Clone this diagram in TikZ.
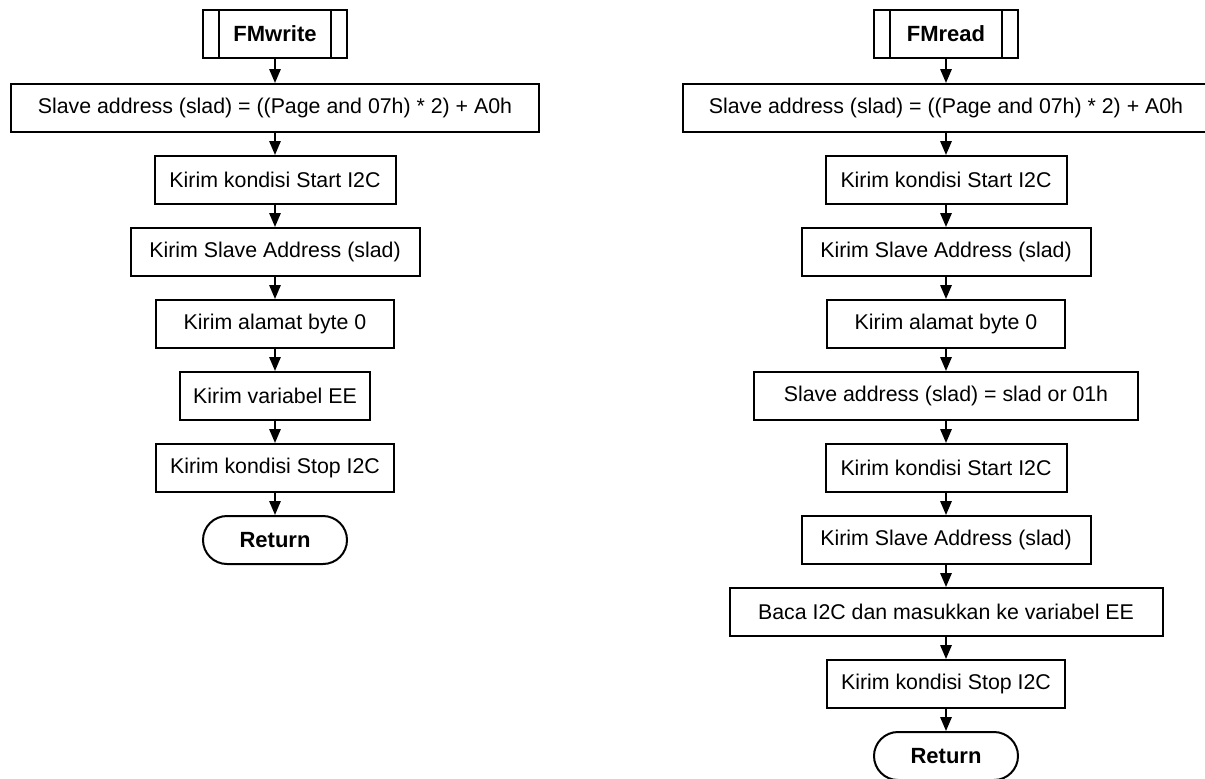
\documentclass[tikz,border=0pt]{standalone}
\usepackage{fontspec}
\setmainfont{Liberation Sans}
\usetikzlibrary{arrows.meta,shapes.misc}

\tikzset{every picture/.style={line width=1.5pt}}
\tikzset{
  procbox/.style={draw,rectangle,inner sep=0pt,minimum height=36pt,font=\fontsize{16}{19}\selectfont},
  subbox/.style={procbox,font=\fontsize{16.5}{19}\selectfont\bfseries},
  termbox/.style={draw,rounded rectangle,inner sep=0pt,minimum height=36pt,minimum width=108pt,font=\fontsize{16.5}{19}\selectfont\bfseries},
  flowarrow/.style={-{Triangle[length=10.5pt,width=8.5pt]}}
}

\begin{document}
\begin{tikzpicture}[x=0.75pt,y=0.75pt,yscale=-1,xscale=1]
\useasboundingbox (0,0) rectangle (1205,778);

%Flowchart: Predefined Process
\node [subbox,minimum width=108pt] (fmw) at (275,34) {FMwrite};
\draw ([xshift=13pt]fmw.north west) -- ([xshift=13pt]fmw.south west);
\draw ([xshift=-13pt]fmw.north east) -- ([xshift=-13pt]fmw.south east);
%Flowchart: Process
\node [procbox,minimum width=396pt] (wslad) at (275,108) {Slave address (slad) = ((Page and 07h) * 2) + A0h};
\node [procbox,minimum width=180.75pt] (wstart) at (275,180) {Kirim kondisi Start I2C};
\node [procbox,minimum width=216.75pt] (waddr) at (275,252) {Kirim Slave Address (slad)};
\node [procbox,minimum width=178.5pt] (wbyte) at (275,324) {Kirim alamat byte 0};
\node [procbox,minimum width=142.5pt] (wvar) at (275,396) {Kirim variabel EE};
\node [procbox,minimum width=178.5pt] (wstop) at (275,468) {Kirim kondisi Stop I2C};
%Flowchart: Terminator
\node [termbox] (wret) at (275,540) {Return};

%Straight Lines
\draw [flowarrow] (fmw) -- (wslad);
\draw [flowarrow] (wslad) -- (wstart);
\draw [flowarrow] (wstart) -- (waddr);
\draw [flowarrow] (waddr) -- (wbyte);
\draw [flowarrow] (wbyte) -- (wvar);
\draw [flowarrow] (wvar) -- (wstop);
\draw [flowarrow] (wstop) -- (wret);

%Flowchart: Predefined Process
\node [subbox,minimum width=108pt] (fmr) at (946,34) {FMread};
\draw ([xshift=13pt]fmr.north west) -- ([xshift=13pt]fmr.south west);
\draw ([xshift=-13pt]fmr.north east) -- ([xshift=-13pt]fmr.south east);
%Flowchart: Process
\node [procbox,minimum width=394.5pt] (rslad) at (946,108) {Slave address (slad) = ((Page and 07h) * 2) + A0h};
\node [procbox,minimum width=180.75pt] (rstart) at (946,180) {Kirim kondisi Start I2C};
\node [procbox,minimum width=216.75pt] (raddr) at (946,252) {Kirim Slave Address (slad)};
\node [procbox,minimum width=178.5pt] (rbyte) at (946,324) {Kirim alamat byte 0};
\node [procbox,minimum width=288pt] (rslador) at (946,396) {Slave address (slad) = slad or 01h};
\node [procbox,minimum width=180.75pt] (rstartb) at (946,468) {Kirim kondisi Start I2C};
\node [procbox,minimum width=216.75pt] (raddrb) at (946,540) {Kirim Slave Address (slad)};
\node [procbox,minimum width=324.75pt] (rread) at (946,612) {Baca I2C dan masukkan ke variabel EE};
\node [procbox,minimum width=178.5pt] (rstop) at (946,684) {Kirim kondisi Stop I2C};
%Flowchart: Terminator
\node [termbox] (rret) at (946,756) {Return};

%Straight Lines
\draw [flowarrow] (fmr) -- (rslad);
\draw [flowarrow] (rslad) -- (rstart);
\draw [flowarrow] (rstart) -- (raddr);
\draw [flowarrow] (raddr) -- (rbyte);
\draw [flowarrow] (rbyte) -- (rslador);
\draw [flowarrow] (rslador) -- (rstartb);
\draw [flowarrow] (rstartb) -- (raddrb);
\draw [flowarrow] (raddrb) -- (rread);
\draw [flowarrow] (rread) -- (rstop);
\draw [flowarrow] (rstop) -- (rret);

\end{tikzpicture}
\end{document}
